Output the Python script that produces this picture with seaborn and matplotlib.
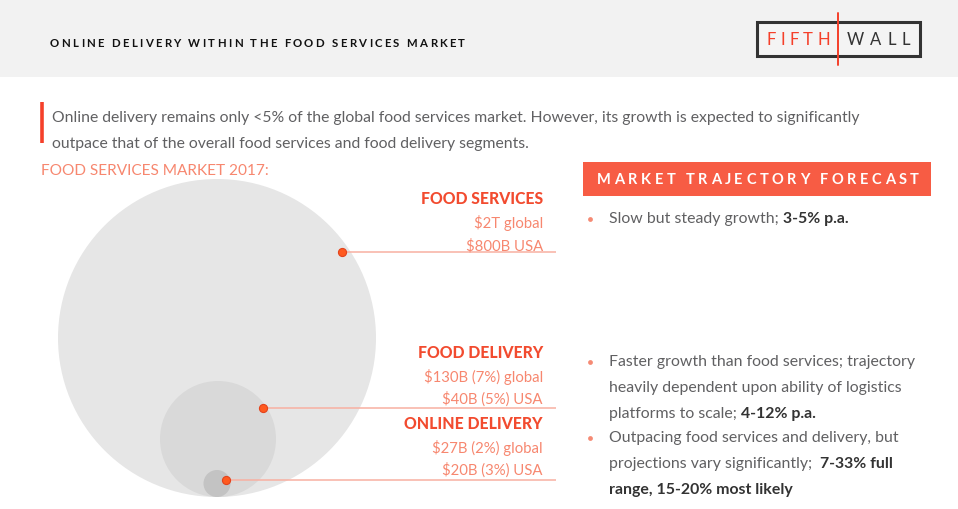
import matplotlib
matplotlib.use('Agg')
import matplotlib.pyplot as plt
from matplotlib.patches import Rectangle
from matplotlib.font_manager import findfont, FontProperties
from matplotlib.ft2font import FT2Font
import pandas as pd
import seaborn as sns

# market segments, 2017
segments = ['FOOD SERVICES', 'FOOD DELIVERY', 'ONLINE DELIVERY']
global_values = ['$2T', '$130B', '$27B']
global_shares = ['', '7%', '2%']
usa_values = ['$800B', '$40B', '$20B']
usa_shares = ['', '5%', '3%']

title = 'ONLINE DELIVERY WITHIN THE FOOD SERVICES MARKET'
intro = ['Online delivery remains only <5% of the global food services market. However, its growth is expected to significantly',
         'outpace that of the overall food services and food delivery segments.']
market_label = 'FOOD SERVICES MARKET 2017:'
forecast_title = 'MARKET TRAJECTORY FORECAST'
# forecast bullets: list of lines, each line a list of (text, bold)
forecast = [
    [[('Slow but steady growth;', False), (' 3-5% p.a.', True)]],
    [[('Faster growth than food services; trajectory', False)],
     [('heavily dependent upon ability of logistics', False)],
     [('platforms to scale;', False), (' 4-12% p.a.', True)]],
    [[('Outpacing food services and delivery, but', False)],
     [('projections vary significantly; ', False), (' 7-33% full', True)],
     [('range, 15-20% most likely', True)]],
]

# layout (pixels)
circle_x = [217, 218, 217]
circle_y = [338, 439, 483.5]
circle_r = [159, 58, 13.5]
circle_colors = ['#e6e6e6', '#d9d9d9', '#c3c3c3']
dot_x = [342, 263, 226]
dot_y = [252, 408, 480]
label_base = [204, 358, 429]
bullet_base = [223, 366, 442]

RED = '#f24b2f'
SALMON = '#f7876f'
GREY = '#606062'
DARK = '#333333'

sns.set_theme(style='white')
plt.rcParams['font.family'] = ['Lato', 'DejaVu Sans']

fig = plt.figure(figsize=(9.58, 5.09), dpi=100)
ax = fig.add_axes([0, 0, 1, 1])
ax.set_xlim(0, 958)
ax.set_ylim(509, 0)
ax.axis('off')
renderer = fig.canvas.get_renderer()


def advances(s, size, weight):
    f = FT2Font(findfont(FontProperties(family='Lato', weight=weight)))
    f.set_size(size, 100)
    return [f.load_char(ord(c)).linearHoriAdvance / 65536 for c in s]


def spread(x0, x1, y, s, size, weight='normal', **kw):
    # letter-spaced caps fitted between x0 and x1
    adv = advances(s, size, weight)
    track = (x1 - x0 - sum(adv)) / (len(s) - 1)
    cx = x0
    for ch, a in zip(s, adv):
        if ch != ' ':
            ax.text(cx, y, ch, fontsize=size, fontweight=weight, va='baseline', **kw)
        cx += a + track


def runs(x, y, parts, size):
    cx = x
    for txt, bold in parts:
        weight = 'bold' if bold else 'normal'
        lead = len(txt) - len(txt.lstrip(' '))
        cx += sum(advances(' ' * lead, size, weight))
        t = ax.text(cx, y, txt.lstrip(' '), fontsize=size, va='baseline',
                    color=DARK if bold else GREY, fontweight=weight)
        cx += t.get_window_extent(renderer).width


# header band and logo
ax.add_patch(Rectangle((0, 0), 958, 77, fc='#f2f2f2', ec='none', zorder=0))
spread(50, 465, 47, title, 8.2, 'bold', color='#111111')
ax.add_patch(Rectangle((757, 22), 163, 34, fc='#f4f4f4', ec='#333333', lw=2.2, zorder=2))
ax.plot([838, 838], [13, 65], color='#f5402a', lw=1.4, zorder=3)
spread(767, 830, 44.5, 'FIFTH', 12, color='#f5402a', zorder=4)
spread(847, 910, 44.5, 'WALL', 12, color='#333333', zorder=4)

# intro text
ax.plot([42, 42], [102, 143], color='#f5402a', lw=2.6, solid_capstyle='butt')
for i, line in enumerate(intro):
    ax.text(52, 122 + 26 * i, line, fontsize=11.3, color=GREY, va='baseline')
ax.text(41, 175, market_label, fontsize=11.1, color=SALMON, va='baseline')

# nested circles
df = pd.DataFrame({'segment': segments, 'x': circle_x, 'y': circle_y,
                   's': [(2 * r * 0.72) ** 2 for r in circle_r]})
sns.scatterplot(data=df, x='x', y='y', hue='segment', size='segment',
                palette=dict(zip(segments, circle_colors)),
                sizes=dict(zip(segments, df['s'])), linewidth=0,
                legend=False, ax=ax, zorder=1)

# leader lines and dots
ax.hlines(dot_y, dot_x, 556, color='#f8b0a2', lw=1.1, zorder=2)
dots = pd.DataFrame({'x': dot_x, 'y': dot_y})
sns.scatterplot(data=dots, x='x', y='y', color='#ff5a1f', edgecolor='#e3441d',
                linewidth=0.8, s=34, legend=False, ax=ax, zorder=3)

# segment labels
for i, seg in enumerate(segments):
    b = label_base[i]
    g = f'{global_values[i]} ({global_shares[i]}) global' if global_shares[i] else f'{global_values[i]} global'
    u = f'{usa_values[i]} ({usa_shares[i]}) USA' if usa_shares[i] else f'{usa_values[i]} USA'
    ax.text(543, b, seg, fontsize=11.3, color=RED, fontweight='black', ha='right', va='baseline')
    ax.text(543, b + 24, g, fontsize=10.7, color=SALMON, ha='right', va='baseline')
    ax.text(543, b + 46, u, fontsize=10.7, color=SALMON, ha='right', va='baseline')

# forecast panel
ax.add_patch(Rectangle((583, 162), 348, 34, fc='#f75c44', ec='none'))
spread(597, 919, 184, forecast_title, 10.5, 'bold', color='white')
for i, bullet in enumerate(forecast):
    b = bullet_base[i]
    ax.scatter([590], [b - 4], s=12, color='#f58a74', linewidths=0)
    for j, parts in enumerate(bullet):
        runs(609, b + 26 * j, parts, 11.4)

fig.savefig('out.png', dpi=100, facecolor='white')
